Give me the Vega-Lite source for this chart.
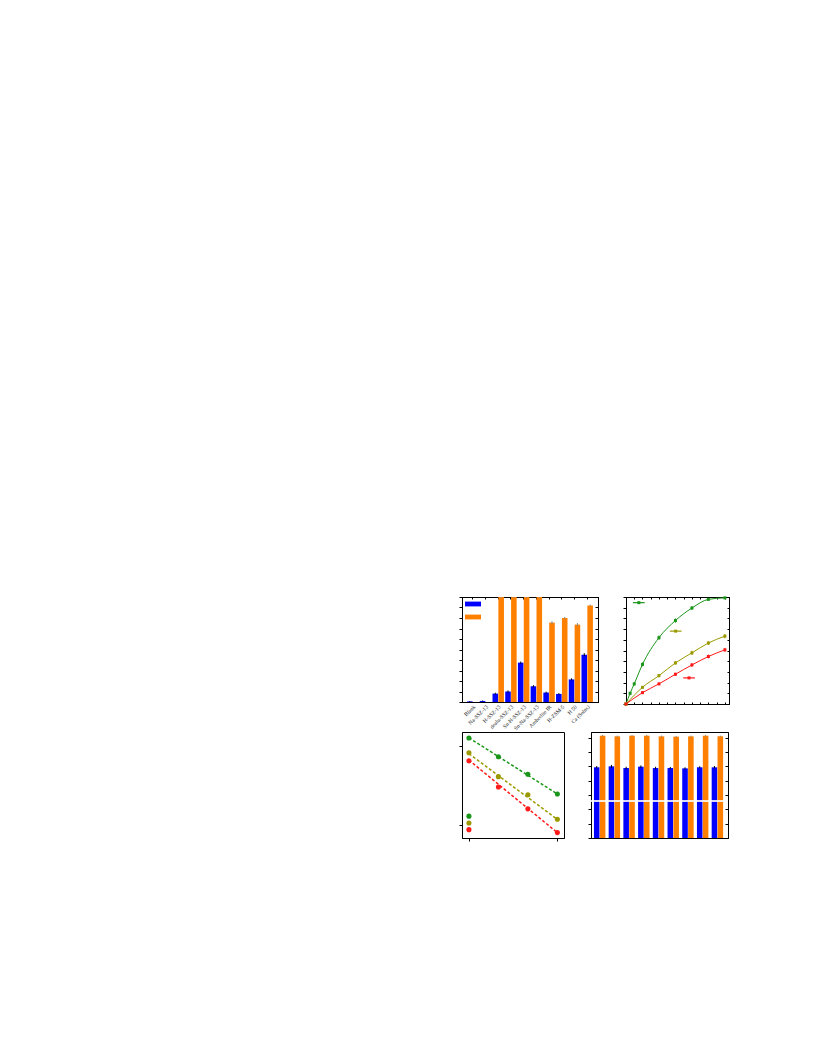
{
  "$schema": "https://vega.github.io/schema/vega-lite/v6.json",
  "background": "white",
  "padding": {"left": 458, "top": 595, "right": 5, "bottom": 5},
  "spacing": -3,
  "resolve": {"scale": {"color": "independent", "stroke": "independent"}},
  "config": {
    "font": "Liberation Serif",
    "view": {"stroke": "black", "strokeWidth": 1},
    "axis": {"labels": false, "title": null, "grid": false, "domainColor": "black", "tickColor": "black", "tickSize": 3, "labelColor": "#222222"}
  },
  "datasets": {
    "bars1": [
      {"cat": "Blank", "s": "conv", "v": 0.6, "lo": 0.3, "hi": 0.9},
      {"cat": "Na-SSZ-13", "s": "conv", "v": 1.0, "lo": 0.6, "hi": 1.4},
      {"cat": "H-SSZ-13", "s": "conv", "v": 8.0, "lo": 7.2, "hi": 8.8},
      {"cat": "H-SSZ-13", "s": "sel", "v": 100, "lo": 99, "hi": 100},
      {"cat": "dealu-SSZ-13", "s": "conv", "v": 10.0, "lo": 9.0, "hi": 11.0},
      {"cat": "dealu-SSZ-13", "s": "sel", "v": 100, "lo": 99, "hi": 100},
      {"cat": "Sn-H-SSZ-13", "s": "conv", "v": 37.5, "lo": 36.5, "hi": 38.5},
      {"cat": "Sn-H-SSZ-13", "s": "sel", "v": 100, "lo": 99, "hi": 100},
      {"cat": "Sn-Na-SSZ-13", "s": "conv", "v": 15.0, "lo": 14.0, "hi": 16.0},
      {"cat": "Sn-Na-SSZ-13", "s": "sel", "v": 100, "lo": 99, "hi": 100},
      {"cat": "Amberlite IR", "s": "conv", "v": 9.0, "lo": 8.2, "hi": 9.8},
      {"cat": "Amberlite IR", "s": "sel", "v": 75.6, "lo": 74.2, "hi": 77.0},
      {"cat": "H-ZSM-5", "s": "conv", "v": 7.7, "lo": 7.0, "hi": 8.4},
      {"cat": "H-ZSM-5", "s": "sel", "v": 80.0, "lo": 79.0, "hi": 81.0},
      {"cat": "H 50", "s": "conv", "v": 21.5, "lo": 20.5, "hi": 22.5},
      {"cat": "H 50", "s": "sel", "v": 73.7, "lo": 72.2, "hi": 75.2},
      {"cat": "Ca  (Solns)", "s": "conv", "v": 45.0, "lo": 43.5, "hi": 46.5},
      {"cat": "Ca  (Solns)", "s": "sel", "v": 92.0, "lo": 91.2, "hi": 92.8}
    ],
    "kin": [
      {"s": "G", "t": 0, "v": 0, "lo": 0, "hi": 0},
      {"s": "G", "t": 5, "v": 10, "lo": 8.8, "hi": 11.2},
      {"s": "G", "t": 10, "v": 18.8, "lo": 17.3, "hi": 20.3},
      {"s": "G", "t": 20, "v": 37, "lo": 35.2, "hi": 38.8},
      {"s": "G", "t": 40, "v": 62, "lo": 60, "hi": 64},
      {"s": "G", "t": 60, "v": 78, "lo": 76, "hi": 80},
      {"s": "G", "t": 80, "v": 89.7, "lo": 87.9, "hi": 91.5},
      {"s": "G", "t": 100, "v": 97.8, "lo": 96.6, "hi": 99},
      {"s": "G", "t": 120, "v": 99.2, "lo": 98.4, "hi": 100},
      {"s": "O", "t": 0, "v": 0, "lo": 0, "hi": 0},
      {"s": "O", "t": 20, "v": 15.6, "lo": 14.4, "hi": 16.8},
      {"s": "O", "t": 40, "v": 26.5, "lo": 25, "hi": 28},
      {"s": "O", "t": 60, "v": 38.4, "lo": 36.8, "hi": 40},
      {"s": "O", "t": 80, "v": 47.8, "lo": 45.8, "hi": 49.8},
      {"s": "O", "t": 100, "v": 57, "lo": 55.2, "hi": 58.8},
      {"s": "O", "t": 120, "v": 63.4, "lo": 61.4, "hi": 65.4},
      {"s": "R", "t": 0, "v": 0, "lo": 0, "hi": 0},
      {"s": "R", "t": 20, "v": 10.6, "lo": 9.6, "hi": 11.6},
      {"s": "R", "t": 40, "v": 18.8, "lo": 17.6, "hi": 20},
      {"s": "R", "t": 60, "v": 27.8, "lo": 26.4, "hi": 29.2},
      {"s": "R", "t": 80, "v": 36.5, "lo": 34.9, "hi": 38.1},
      {"s": "R", "t": 100, "v": 44.4, "lo": 42.6, "hi": 46.2},
      {"s": "R", "t": 120, "v": 50.6, "lo": 48.8, "hi": 52.4}
    ],
    "kinkey": [
      {"s": "G", "x1": 8.5, "x2": 22.7, "xm": 15.6, "y": 94.7},
      {"s": "O", "x1": 53.2, "x2": 67.4, "xm": 60.3, "y": 68.1},
      {"s": "R", "x1": 69.4, "x2": 83.6, "xm": 76.5, "y": 24.4}
    ],
    "arr": [
      {"s": "G", "x": 0, "v": 94.3},
      {"s": "G", "x": 1, "v": 76.6},
      {"s": "G", "x": 2, "v": 60.1},
      {"s": "G", "x": 3, "v": 41.5},
      {"s": "O", "x": 0, "v": 80.4},
      {"s": "O", "x": 1, "v": 57.9},
      {"s": "O", "x": 2, "v": 40.8},
      {"s": "O", "x": 3, "v": 17.7},
      {"s": "R", "x": 0, "v": 72.8},
      {"s": "R", "x": 1, "v": 48.1},
      {"s": "R", "x": 2, "v": 27.5},
      {"s": "R", "x": 3, "v": 5.1},
      {"s": "G", "x": 0, "v": 20.6},
      {"s": "O", "x": 0, "v": 14.2},
      {"s": "R", "x": 0, "v": 7.9}
    ],
    "arrfit": [
      {"s": "G", "x": 0, "v": 94.5},
      {"s": "G", "x": 3, "v": 41.5},
      {"s": "O", "x": 0, "v": 79.5},
      {"s": "O", "x": 3, "v": 17.5},
      {"s": "R", "x": 0, "v": 73.5},
      {"s": "R", "x": 3, "v": 5.0}
    ],
    "bars4": [
      {"g": "1", "s": "conv", "v": 66.7, "lo": 65.5, "hi": 67.9},
      {"g": "1", "s": "sel", "v": 96.5, "lo": 95.8, "hi": 97.2},
      {"g": "2", "s": "conv", "v": 67.6, "lo": 66.2, "hi": 69.0},
      {"g": "2", "s": "sel", "v": 95.9, "lo": 95.2, "hi": 96.6},
      {"g": "3", "s": "conv", "v": 66.0, "lo": 64.8, "hi": 67.2},
      {"g": "3", "s": "sel", "v": 96.5, "lo": 95.8, "hi": 97.2},
      {"g": "4", "s": "conv", "v": 67.3, "lo": 66.1, "hi": 68.5},
      {"g": "4", "s": "sel", "v": 96.5, "lo": 95.8, "hi": 97.2},
      {"g": "5", "s": "conv", "v": 66.0, "lo": 64.8, "hi": 67.2},
      {"g": "5", "s": "sel", "v": 95.9, "lo": 95.2, "hi": 96.6},
      {"g": "6", "s": "conv", "v": 66.0, "lo": 65.0, "hi": 67.0},
      {"g": "6", "s": "sel", "v": 95.6, "lo": 94.9, "hi": 96.3},
      {"g": "7", "s": "conv", "v": 65.7, "lo": 64.7, "hi": 66.7},
      {"g": "7", "s": "sel", "v": 95.9, "lo": 95.2, "hi": 96.6},
      {"g": "8", "s": "conv", "v": 66.7, "lo": 65.7, "hi": 67.7},
      {"g": "8", "s": "sel", "v": 96.5, "lo": 95.8, "hi": 97.2},
      {"g": "9", "s": "conv", "v": 66.7, "lo": 65.5, "hi": 67.9},
      {"g": "9", "s": "sel", "v": 95.9, "lo": 95.2, "hi": 96.6}
    ],
    "brk": [{"b": 35}]
  },
  "vconcat": [
    {
      "spacing": 23,
      "resolve": {"scale": {"color": "independent", "stroke": "independent"}},
      "hconcat": [
        {
          "width": 136,
          "height": 105,
          "data": {"name": "bars1"},
          "layer": [
            {
              "mark": {"type": "bar"},
              "encoding": {
                "x": {"field": "cat", "type": "nominal", "sort": null, "scale": {"paddingInner": 0.1, "paddingOuter": 0.4},
                      "axis": {"orient": "bottom", "labels": true, "labelAngle": -45, "labelFontSize": 5.5, "ticks": false, "labelPadding": 2, "labelFont": "Liberation Serif"}},
                "xOffset": {"field": "s", "type": "nominal", "sort": ["conv", "sel"], "scale": {"domain": ["conv", "sel"], "paddingInner": 0.05}},
                "y": {"field": "v", "type": "quantitative", "scale": {"domain": [0, 100]},
                      "axis": {"orient": "left", "values": [0, 10, 20, 30, 40, 50, 60, 70, 80, 90, 100]}},
                "color": {"field": "s", "type": "nominal", "scale": {"domain": ["conv", "sel"], "range": ["#0000ff", "#ff8000"]},
                          "legend": {"orient": "none", "legendX": 3, "legendY": -1, "title": null, "symbolType": "M-1,-0.3H1V0.3H-1Z", "symbolSize": 256, "symbolStrokeWidth": 0, "symbolOpacity": 1, "labelExpr": "''", "rowPadding": 0, "padding": 0}}
              }
            },
            {
              "mark": {"type": "rule", "strokeWidth": 1},
              "encoding": {
                "x": {"field": "cat", "type": "nominal", "sort": null, "axis": {"orient": "top", "tickSize": -2, "labels": false}},
                "xOffset": {"field": "s", "type": "nominal", "sort": ["conv", "sel"]},
                "y": {"field": "lo", "type": "quantitative", "axis": {"orient": "right", "tickSize": -3, "values": [0, 10, 20, 30, 40, 50, 60, 70, 80, 90, 100]}},
                "y2": {"field": "hi"},
                "stroke": {"field": "s", "type": "nominal", "scale": {"domain": ["conv", "sel"], "range": ["#000000", "#8a8a8a"]}, "legend": null}
              }
            }
          ],
          "resolve": {"axis": {"x": "independent", "y": "independent"}}
        },
        {
          "width": 103,
          "height": 107,
          "layer": [
            {
              "data": {"name": "kin"},
              "mark": {"type": "line", "interpolate": "monotone", "strokeWidth": 1},
              "encoding": {
                "x": {"field": "t", "type": "quantitative", "scale": {"domain": [0, 125], "nice": false}, "axis": {"orient": "bottom", "values": [0, 10, 20, 30, 40, 50, 60, 70, 80, 90, 100, 110, 120], "tickSize": -2}},
                "y": {"field": "v", "type": "quantitative", "scale": {"domain": [0, 100]}, "axis": {"orient": "left", "values": [0, 10, 20, 30, 40, 50, 60, 70, 80, 90, 100]}},
                "color": {"field": "s", "type": "nominal", "scale": {"domain": ["G", "O", "R"], "range": ["#1a961a", "#9a9a00", "#ff1a1a"]}, "legend": null}
              }
            },
            {
              "data": {"name": "kin"},
              "mark": {"type": "rule", "strokeWidth": 1},
              "encoding": {
                "x": {"field": "t", "type": "quantitative", "axis": {"orient": "top", "values": [0, 10, 20, 30, 40, 50, 60, 70, 80, 90, 100, 110, 120], "tickSize": -2}},
                "y": {"field": "lo", "type": "quantitative", "axis": {"orient": "right", "values": [0, 10, 20, 30, 40, 50, 60, 70, 80, 90, 100], "tickSize": -2}},
                "y2": {"field": "hi"},
                "color": {"field": "s", "type": "nominal", "legend": null}
              }
            },
            {
              "data": {"name": "kin"},
              "mark": {"type": "point", "shape": "square", "filled": true, "size": 9, "opacity": 1},
              "encoding": {
                "x": {"field": "t", "type": "quantitative", "axis": null},
                "y": {"field": "v", "type": "quantitative", "axis": null},
                "color": {"field": "s", "type": "nominal", "legend": null}
              }
            },
            {
              "data": {"name": "kinkey"},
              "mark": {"type": "rule", "strokeWidth": 1.2},
              "encoding": {
                "x": {"field": "x1", "type": "quantitative", "axis": null},
                "x2": {"field": "x2"},
                "y": {"field": "y", "type": "quantitative", "axis": null},
                "color": {"field": "s", "type": "nominal", "legend": null}
              }
            },
            {
              "data": {"name": "kinkey"},
              "mark": {"type": "point", "shape": "square", "filled": true, "size": 9, "opacity": 1},
              "encoding": {
                "x": {"field": "xm", "type": "quantitative", "axis": null},
                "y": {"field": "y", "type": "quantitative", "axis": null},
                "color": {"field": "s", "type": "nominal", "legend": null}
              }
            }
          ],
          "resolve": {"axis": {"x": "independent", "y": "independent"}}
        }
      ]
    },
    {
      "spacing": 22,
      "resolve": {"scale": {"color": "independent", "stroke": "independent"}},
      "hconcat": [
        {
          "width": 102,
          "height": 106,
          "layer": [
            {
              "data": {"name": "arrfit"},
              "mark": {"type": "line", "strokeDash": [3, 2], "strokeWidth": 1.5},
              "encoding": {
                "x": {"field": "x", "type": "quantitative", "scale": {"domain": [-0.235, 3.225], "nice": false, "zero": false}, "axis": {"orient": "bottom", "values": [0, 0.5, 1, 1.5, 2, 2.5, 3], "tickSize": 3}},
                "y": {"field": "v", "type": "quantitative", "scale": {"domain": [0, 100]}, "axis": {"orient": "left", "values": [12, 24.5, 37, 49.5, 62, 74.5, 87], "tickSize": 3}},
                "color": {"field": "s", "type": "nominal", "scale": {"domain": ["G", "O", "R"], "range": ["#1a961a", "#9a9a00", "#ff1a1a"]}, "legend": null}
              }
            },
            {
              "data": {"name": "arr"},
              "mark": {"type": "point", "shape": "circle", "filled": true, "size": 26, "opacity": 1},
              "encoding": {
                "x": {"field": "x", "type": "quantitative"},
                "y": {"field": "v", "type": "quantitative"},
                "color": {"field": "s", "type": "nominal", "legend": null}
              }
            }
          ]
        },
        {
          "width": 137,
          "height": 106,
          "layer": [
            {
              "data": {"name": "bars4"},
              "mark": {"type": "bar"},
              "encoding": {
                "x": {"field": "g", "type": "nominal", "sort": null, "scale": {"paddingInner": 0.09, "paddingOuter": 0.2}, "axis": {"orient": "bottom", "tickSize": 3}},
                "xOffset": {"field": "s", "type": "nominal", "sort": ["conv", "sel"], "scale": {"domain": ["conv", "sel"], "paddingInner": 0}},
                "y": {"field": "v", "type": "quantitative", "scale": {"domain": [0, 100]}, "axis": {"orient": "left", "values": [0, 13.5, 27, 40.5, 54, 67.5, 81, 94.5]}},
                "color": {"field": "s", "type": "nominal", "scale": {"domain": ["conv", "sel"], "range": ["#0000ff", "#ff8000"]}, "legend": null}
              }
            },
            {
              "data": {"name": "bars4"},
              "mark": {"type": "rule", "strokeWidth": 1},
              "encoding": {
                "x": {"field": "g", "type": "nominal", "sort": null, "axis": null},
                "xOffset": {"field": "s", "type": "nominal", "sort": ["conv", "sel"]},
                "y": {"field": "lo", "type": "quantitative", "axis": {"orient": "right", "tickSize": -3, "values": [0, 13.5, 27, 40.5, 54, 67.5, 81, 94.5]}},
                "y2": {"field": "hi"},
                "stroke": {"field": "s", "type": "nominal", "scale": {"domain": ["conv", "sel"], "range": ["#000000", "#8a8a8a"]}, "legend": null}
              }
            },
            {
              "data": {"name": "brk"},
              "mark": {"type": "rule", "color": "white", "strokeWidth": 2, "opacity": 0.85},
              "encoding": {
                "y": {"field": "b", "type": "quantitative", "axis": null}
              }
            }
          ],
          "resolve": {"axis": {"y": "independent"}}
        }
      ]
    }
  ]
}
